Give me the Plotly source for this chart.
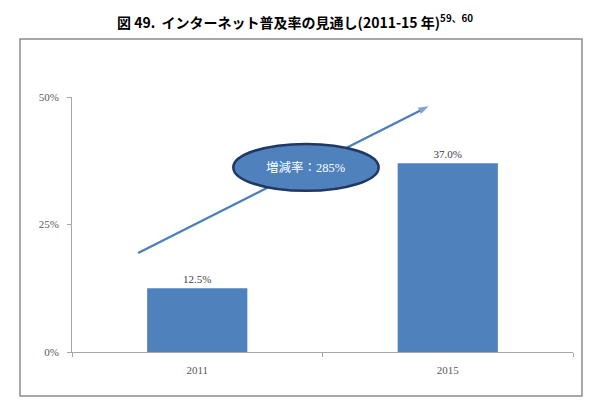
import plotly.graph_objects as go

categories = ["2011", "2015"]
values = [0.125, 0.370]
y_ticks = [0, 0.25, 0.5]
y_tick_labels = ["0%", "25%", "50%"]
growth_label = "増減率：285%"
title_text = "図 49.  インターネット普及率の見通し(2011-15 年)"
title_sup = "59、60"
arrow_x = [-0.236, 0.924]
arrow_y = [0.194, 0.482]

serif = "Liberation Serif, DejaVu Serif, Noto Sans CJK JP, serif"

# page body has an 8px default margin; compensate so page coords match
OFF = 8
W, H = 602 - OFF, 410 - OFF
L, R, T, B = 72 - OFF, 29, 97 - OFF, 58
pw, ph = W - L - R, H - T - B

def px_x(p):
    return (p - OFF - L) / pw

def px_y(p):
    return (H - B - (p - OFF)) / ph

fig = go.Figure()
fig.add_trace(go.Bar(
    x=categories, y=values,
    marker=dict(color="#4F81BD", line=dict(width=0)),
    texttemplate="%{y:.1%}", textposition="outside",
    textfont=dict(family=serif, size=11, color="#404040"),
    cliponaxis=False, hoverinfo="skip",
))

# growth arrow on an overlaying numeric x axis
fig.add_trace(go.Scatter(
    x=arrow_x, y=arrow_y, xaxis="x2", mode="lines+markers",
    line=dict(color="#4A7EBB", width=2.2),
    marker=dict(symbol="arrow", angleref="previous", size=[0, 11],
                color="#4A7EBB", line=dict(width=0)),
    hoverinfo="skip", cliponaxis=False,
))

# outer frame
fig.add_shape(type="rect", xref="paper", yref="paper",
              x0=px_x(20), x1=px_x(582), y0=px_y(396), y1=px_y(39),
              line=dict(color="#8C8C8C", width=1.5), layer="below")

# ellipse
fig.add_shape(type="circle", xref="x2", yref="y",
              x0=0.144, x1=0.724, y0=0.316, y1=0.408,
              fillcolor="#4F81BD", line=dict(color="#1F3864", width=2.5))
fig.add_annotation(xref="x2", yref="y", x=0.434, y=0.362, text=growth_label,
                   showarrow=False,
                   font=dict(family=serif, size=12.5, color="white"))

# title
fig.add_annotation(xref="paper", yref="paper", x=px_x(295), y=px_y(9),
                   text="<b>" + title_text + "<sup>" + title_sup + "</sup></b>",
                   showarrow=False, xanchor="center", yanchor="top",
                   font=dict(family="Noto Sans CJK JP, Liberation Sans, sans-serif", size=14, color="black"))

axis_font = dict(family=serif, size=11, color="#595959")
fig.update_layout(
    width=W, height=H,
    margin=dict(l=L, r=R, t=T, b=B),
    paper_bgcolor="white", plot_bgcolor="white",
    bargap=0.6, showlegend=False,
    xaxis=dict(type="category", range=[-0.5, 1.5], showgrid=False,
               showline=True, linecolor="#A6A6A6", linewidth=1,
               ticks="outside", tickson="boundaries", ticklen=4, tickcolor="#A6A6A6",
               ticklabelstandoff=8,
               tickfont=axis_font, fixedrange=True),
    xaxis2=dict(overlaying="x", range=[-0.5, 1.5], visible=False, fixedrange=True),
    yaxis=dict(range=[0, 0.5], tickvals=y_ticks, ticktext=y_tick_labels,
               showgrid=False, zeroline=False,
               showline=True, linecolor="#A6A6A6", linewidth=1,
               ticks="outside", ticklen=4, tickcolor="#A6A6A6",
               ticklabelstandoff=6,
               tickfont=axis_font, fixedrange=True),
)

fig.write_html("out.html")
